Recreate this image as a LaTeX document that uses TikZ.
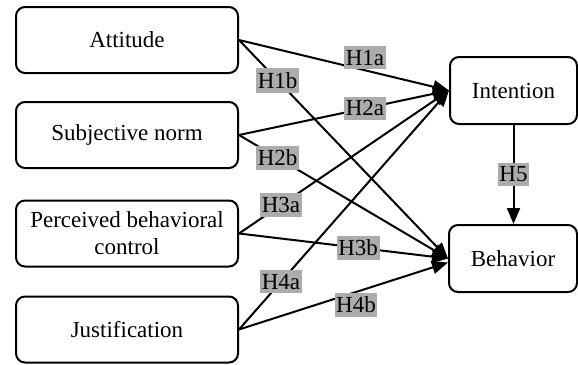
\documentclass[tikz,border=0pt]{standalone}
\usepackage{fontspec}
\setmainfont{Liberation Serif}
\usepackage{tikz}
\usetikzlibrary{arrows.meta}

\begin{document}
\begin{tikzpicture}[x=0.5pt,y=-0.5pt,
		box/.style={draw, line width=1pt, rounded corners=4.5pt, align=center, font=\fontsize{11.5}{13.5}\selectfont},
		lbl/.style={fill=gray!65, inner xsep=0.8pt, inner ysep=2pt, font=\fontsize{11.5}{13.5}\selectfont},
		arr/.style={line width=1pt, -{Triangle[length=8pt,width=6.5pt]}}]
	\useasboundingbox (0,0) rectangle (578,364);
	\node[box, minimum width=111pt, minimum height=33pt] (att) at (127,40) {Attitude};
	\node[box, minimum width=111pt, minimum height=33pt] (sn) at (127,135) {Subjective norm};
	\node[box, minimum width=111pt, minimum height=33pt] (pbc) at (127,233.5) {Perceived behavioral\\control};
	\node[box, minimum width=111pt, minimum height=33pt] (jus) at (127,329.5) {Justification};
	\node[box, minimum width=63.5pt, minimum height=33.5pt] (int) at (513.5,90.5) {Intention};
	\node[box, minimum width=64pt, minimum height=33.5pt] (beh) at (513,258.5) {Behavior};
	% paths to intention
	\draw[arr] (att.east) -- node[lbl, pos=.6, above=0pt] {H1a} (int.west);
	\draw[arr] (sn.east) -- node[lbl, pos=.6] {H2a} (int.west);
	\draw[arr] (pbc.east) -- node[lbl, pos=.2] {H3a} (int.west);
	\draw[arr] (jus.east) -- node[lbl, pos=.2] {H4a} (int.west);
	% paths to behavior
	\draw[arr] (att.east) -- node[lbl, pos=.185] {H1b} (beh.west);
	\draw[arr] (sn.east) -- node[lbl, pos=.185] {H2b} (beh.west);
	\draw[arr] (pbc.east) -- node[lbl, pos=.57] {H3b} (beh.west);
	\draw[arr] (jus.east) -- node[lbl, pos=.56, below=0pt] {H4b} ([yshift=-2pt]beh.west);
	\draw[arr] (int.south) -- node[lbl] {H5} (int.south |- beh.north);
\end{tikzpicture}
\end{document}
